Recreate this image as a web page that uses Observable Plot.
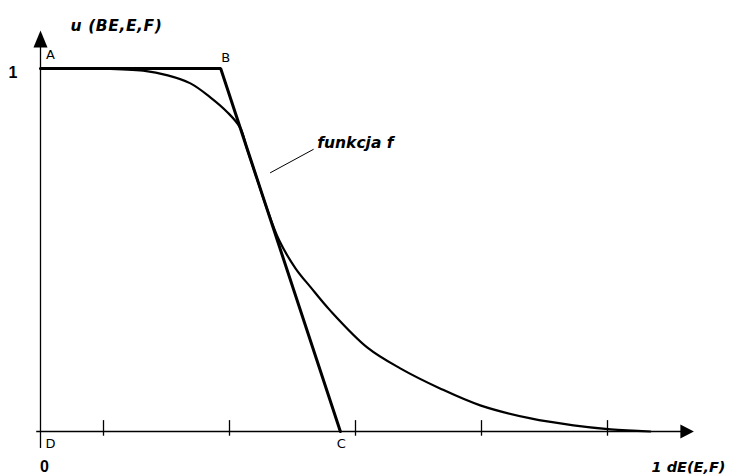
<!DOCTYPE html>
<html>
<head>
<meta charset="utf-8">
<script src="https://cdn.jsdelivr.net/npm/d3@7"></script>
<script src="https://cdn.jsdelivr.net/npm/@observablehq/plot@0.6"></script>
<style>
  html, body { margin: 0; padding: 0; background: #fff; }
  #chart svg { display: block; }
</style>
</head>
<body>
<div id="chart"></div>
<script>
// ---- data ----
// membership function f
const fX = [0, 0.095, 0.163, 0.202, 0.238, 0.270, 0.297, 0.317, 0.3276, 0.342, 0.3576, 0.379, 0.405, 0.429, 0.460, 0.519, 0.571, 0.635, 0.698, 0.778, 0.846, 0.905, 0.968];
const fY = [1, 1, 0.994, 0.981, 0.959, 0.920, 0.879, 0.837, 0.780, 0.705, 0.623, 0.526, 0.449, 0.397, 0.333, 0.231, 0.174, 0.118, 0.072, 0.036, 0.017, 0.006, 0];
// trapezoid approximation A-B-C-D
const pointNames = ["A", "B", "C", "D"];
const pointX = [0, 0.286, 0.476, 0];
const pointY = [1, 1, 0, 0];
// x-axis tick positions
const xTicks = [0.1, 0.3, 0.5, 0.7, 0.9];
// leader line of the "funkcja f" annotation
const leaderX = [0.365, 0.433];
const leaderY = [0.713, 0.777];
const annotationText = "funkcja f";
const yAxisTitle = "u (BE,E,F)";
const xAxisTitle = "1 dE(E,F)";
const yTickLabel = "1";
const originLabel = "0";

const curve = fX.map((x, i) => ({x, y: fY[i]}));
const points = pointNames.map((name, i) => ({name, x: pointX[i], y: pointY[i]}));
const trapezoid = points.slice(0, 3);
const leader = leaderX.map((x, i) => ({x, y: leaderY[i]}));

const arrowUp = {draw(ctx) { ctx.moveTo(0, -8.5); ctx.lineTo(7, 8.5); ctx.lineTo(-7, 8.5); ctx.closePath(); }};
const arrowRight = {draw(ctx) { ctx.moveTo(7, 0); ctx.lineTo(-6.5, 7); ctx.lineTo(-6.5, -7); ctx.closePath(); }};

const italic = {fontFamily: "DejaVu Sans", fontWeight: "bold", fontStyle: "italic", fontSize: 15.5};
const letters = {fontFamily: "DejaVu Sans", fontSize: 13};
const digits = {fontFamily: "Liberation Sans Narrow, Liberation Sans", fontWeight: "bold", fontSize: 16};

const chart = Plot.plot({
  width: 737,
  height: 474,
  marginLeft: 40,
  marginRight: 67,
  marginTop: 68,
  marginBottom: 43,
  x: {domain: [0, 1], axis: null},
  y: {domain: [0, 1], axis: null},
  style: {background: "#fff", overflow: "visible"},
  marks: [
    // axes
    Plot.ruleX([0], {y1: -0.047, y2: 1.06, stroke: "#000", strokeWidth: 1.3}),
    Plot.ruleY([0], {x1: -0.006, x2: 1.02, stroke: "#000", strokeWidth: 1.3}),
    Plot.ruleX(xTicks, {x: d => d, y1: -0.013, y2: 0.03, stroke: "#000", strokeWidth: 1.3}),
    Plot.dot([{x: 0, y: 1.081}], {x: "x", y: "y", symbol: arrowUp, fill: "#000", stroke: "none", r: 5}),
    Plot.dot([{x: 1.026, y: 0}], {x: "x", y: "y", symbol: arrowRight, fill: "#000", stroke: "none", r: 5}),
    // trapezoid A-B-C
    Plot.line(trapezoid, {x: "x", y: "y", stroke: "#000", strokeWidth: 3, strokeLinejoin: "miter"}),
    // function f
    Plot.line(curve, {x: "x", y: "y", curve: "catmull-rom", stroke: "#000", strokeWidth: 2.2}),
    // annotation
    Plot.line(leader, {x: "x", y: "y", stroke: "#000", strokeWidth: 1}),
    Plot.text([leader[1]], {x: "x", y: "y", text: () => annotationText, textAnchor: "start", dx: 4, dy: -6, ...italic}),
    // point labels
    Plot.text([points[0]], {x: "x", y: "y", text: "name", dx: 10, dy: -14, ...letters}),
    Plot.text([points[1]], {x: "x", y: "y", text: "name", dx: 5, dy: -11, ...letters}),
    Plot.text([points[2]], {x: "x", y: "y", text: "name", dx: 1, dy: 12, ...letters}),
    Plot.text([points[3]], {x: "x", y: "y", text: "name", dx: 10, dy: 12, ...letters}),
    // axis titles and labels
    Plot.text([{x: 0, y: 1}], {x: "x", y: "y", text: () => yAxisTitle, textAnchor: "start", dx: 30, dy: -42, ...italic}),
    Plot.text([{x: 0, y: 1}], {x: "x", y: "y", text: () => yTickLabel, dx: -27.5, dy: 4.5, ...digits}),
    Plot.text([{x: 0, y: 0}], {x: "x", y: "y", text: () => originLabel, dx: 4, dy: 35, ...digits}),
    Plot.text([{x: 1, y: 0}], {x: "x", y: "y", text: () => xAxisTitle, textAnchor: "start", dx: -19, dy: 36, ...italic, fontSize: 14.5})
  ]
});
// slightly wider spacing for the y-axis title, as in the reference
d3.select(chart).selectAll("text").filter(function() { return this.textContent === yAxisTitle; })
  .style("letter-spacing", "0.6px");
document.getElementById("chart").appendChild(chart);
</script>
</body>
</html>
